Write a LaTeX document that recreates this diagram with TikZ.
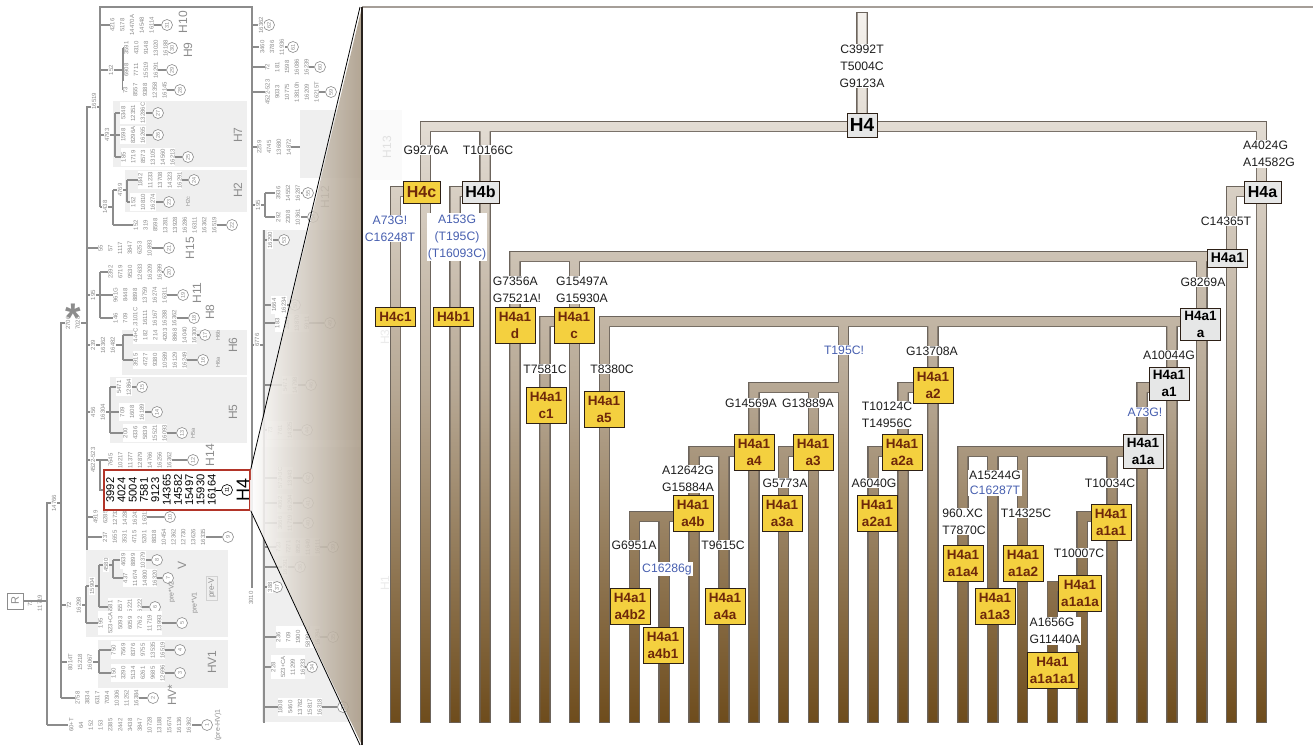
\documentclass[tikz,border=0pt]{standalone}
\usepackage{fontspec}
\setmainfont{Liberation Sans}

\definecolor{ttop}{RGB}{246,243,239}
\definecolor{tmid}{RGB}{182,167,147}
\definecolor{tbot}{RGB}{110,76,28}
\definecolor{tedge}{RGB}{108,100,92}
\definecolor{hyellow}{RGB}{244,208,63}
\definecolor{hbrown}{RGB}{110,40,10}
\definecolor{hgray}{RGB}{230,231,231}
\definecolor{hline}{RGB}{45,32,22}
\definecolor{mblue}{RGB}{72,96,176}
\definecolor{mtext}{RGB}{30,30,30}
\definecolor{lgray}{RGB}{140,140,140}
\definecolor{lbox}{RGB}{239,239,239}
\definecolor{trap}{RGB}{168,153,133}
\definecolor{redbox}{RGB}{178,52,40}

\pgfdeclareverticalshading{tubeshade}{100bp}{color(0bp)=(tbot); color(25bp)=(tbot); color(48bp)=(tmid); color(75bp)=(ttop); color(100bp)=(ttop)}

\tikzset{
  mut/.style={fill=white, inner sep=1pt, align=center, text=mtext, font=\fontsize{12.2}{17}\selectfont},
  mutb/.style={mut, text=mblue},
  hbox/.style={draw=hline, line width=0.7pt, align=center, inner xsep=3pt, inner ysep=1.5pt,
    minimum width=40pt, minimum height=19pt, font=\bfseries\fontsize{13.5}{17}\selectfont},
  hy/.style={hbox, fill=hyellow, text=hbrown},
  hg/.style={hbox, fill=hgray, text=black},
  tall/.style={minimum height=36pt},
  big/.style={minimum width=37pt, minimum height=22pt, font=\bfseries\fontsize{16}{16}\selectfont},
  ll/.style={draw=lgray, line width=1.5pt},
  ms/.style={rotate=90, align=center, fill=white, inner sep=0.6pt, text=lgray, font=\fontsize{6}{9.8}\selectfont},
  lc/.style={circle, draw=lgray, line width=0.6pt, fill=white, inner sep=0pt, minimum size=11pt,
    text=lgray, font=\fontsize{5.5}{5.5}\selectfont, rotate=90},
  hl/.style={rotate=90, text=lgray, font=\fontsize{12}{12}\selectfont},
  hs/.style={rotate=90, text=lgray, font=\fontsize{5.5}{6}\selectfont}
}

\newcommand{\cx}[1]{395.5+29.86*#1}
\newcommand{\hleaf}[6]{%
  \node[lc] (n#6) at (#5,#2) {#6};
  \draw[ll] (#1,#2) -- (n#6);
  \node[ms] (s#6) at (#3,#2) {#4};}
\newcommand{\tubes}{%
  (857.5,13) rectangle (866.5,127)
  \foreach \i/\tp in {0/187,1/122,2/187,3/122,4/252,5/317,6/252,7/317,8/512,9/512,10/447,11/447,
      12/383,13/447,14/383,15/317,16/447,17/383,18/317,19/447,20/447,21/447,22/582,23/512,24/447,
      25/383,26/317,27/252,28/187,29/122}
    {(\cx{\i}-4.5,\tp) rectangle (\cx{\i}+4.5,722)}
  \foreach \lc/\rc/\ty in {1/29/122,0/1/187,2/3/187,28/29/187,4/28/252,5/6/317,7/27/317,12/15/383,
      17/18/383,25/26/383,10/12/447,13/14/447,16/17/447,19/25/447,8/10/512,23/24/512,22/23/582}
    {(\cx{\lc}-4.5,\ty) rectangle (\cx{\rc}+4.5,\ty+9)}}

\begin{document}
\begin{tikzpicture}[x=1pt,y=-1pt]
  \useasboundingbox (0,0) rectangle (1313,745);
  \fill[white] (0,0) rectangle (1313,745);

  % overview tree
  \fill[lbox] (113,101) rectangle (247,167);
  \fill[lbox] (125,170) rectangle (247,212);
  \fill[lbox] (122,330) rectangle (247,375);
  \fill[lbox] (110,377) rectangle (247,443);
  \fill[lbox] (86,550) rectangle (228,637);
  \fill[lbox] (98,640) rectangle (228,688);
  \fill[lbox] (300,110) rectangle (362,178);
  \fill[lbox] (262,230) rectangle (362,440);
  \fill[lbox] (262,447) rectangle (362,722);

  \draw[ll] (100,207) -- (100,7) -- (252,7) -- (252,588);
  \draw[ll] (100,107) -- (87,107) -- (87,550);
  \draw[ll] (87,323) -- (61,323) -- (61,698);
  \draw[ll] (61,503) -- (47,503) -- (47,725);
  \draw[ll] (100,70) -- (123,70);   \draw[ll] (123,48) -- (123,90);
  \draw[ll] (100,135) -- (115,135); \draw[ll] (115,113) -- (115,157);
  \draw[ll] (100,207) -- (113,207); \draw[ll] (113,190) -- (113,225);
  \draw[ll] (113,190) -- (127,190); \draw[ll] (127,180) -- (127,202);
  \draw[ll] (87,295) -- (100,295);  \draw[ll] (100,272) -- (100,318);
  \draw[ll] (87,345) -- (123,345);  \draw[ll] (123,335) -- (123,360);
  \draw[ll] (87,412) -- (110,412);  \draw[ll] (110,387) -- (110,433);
  \draw[ll] (87,460) -- (100,460) -- (100,490) -- (104,490);
  \draw[ll] (61,605) -- (86,605);   \draw[ll] (86,586) -- (86,623);
  \draw[ll] (86,586) -- (99,586);   \draw[ll] (99,565) -- (99,607);
  \draw[ll] (99,565) -- (113,565);  \draw[ll] (113,560) -- (113,578);
  \draw[ll] (61,662) -- (99,662);   \draw[ll] (99,650) -- (99,673);
  \draw[ll] (252,147) -- (300,147);
  \draw[ll] (252,205) -- (265,205); \draw[ll] (265,193) -- (265,217);
  \draw[ll] (252,345) -- (264,345); \draw[ll] (264,230) -- (264,723);

  \hleaf{100}{25}{132}{4216\\5178\\14470A\\14548\\16114}{167}{31}
  \hleaf{123}{48}{146}{3591\\4310\\9148\\13020\\16188}{172}{30}
  \hleaf{123}{70}{141}{6908\\7711\\15519\\16291}{172}{29}
  \hleaf{123}{90}{145}{73\\8557\\9388\\12358\\16145}{180}{28}
  \hleaf{115}{113}{133}{5348\\12351\\13286C}{158}{27}
  \hleaf{115}{135}{133}{1598\\8296A\\16265}{158}{26}
  \hleaf{115}{157}{148}{185\\1719\\8573\\13105\\14560\\16213}{188}{25}
  \hleaf{127}{180}{160}{1842\\11233\\13708\\14323\\16291}{194}{24}
  \hleaf{127}{202}{143}{152\\10810\\16274}{169}{23}
  \hleaf{113}{225}{175}{152\\319\\8598\\13281\\13928\\16286\\16311\\16362\\16519}{232}{22}
  \hleaf{87}{248}{125}{55\\57\\1117\\3847\\6253\\10893}{169}{21}
  \hleaf{100}{272}{135}{2392\\6719\\9530\\12633\\16209\\16399}{169}{20}
  \hleaf{100}{295}{140}{961G\\8448\\8898\\13759\\16274\\16311}{183}{19}
  \hleaf{100}{318}{145}{146\\709\\13101C\\16111\\16167\\16288\\16362}{194}{18}
  \hleaf{123}{335}{165}{44+C\\182\\214\\4203\\8868\\14040\\16300}{205}{17}
  \hleaf{123}{360}{160}{3915\\4727\\9380\\10589\\16129\\16249}{203}{16}
  \hleaf{110}{387}{124}{5471\\12864}{142}{15}
  \hleaf{110}{412}{132}{709\\1608\\16189}{157}{14}
  \hleaf{110}{433}{145}{200\\4336\\5839\\15521\\16093}{182}{13}
  \hleaf{100}{460}{140}{7645\\10217\\11377\\12879\\14766\\16256\\16362}{193}{12}
  \hleaf{87}{517}{120}{4919\\6285\\12732\\14288\\16241\\16311}{170}{10}
  \hleaf{87}{537}{154}{237\\1655\\3531\\4715\\5201\\8838\\10454\\12362\\12730\\13626\\16335}{228}{9}
  \hleaf{113}{560}{133}{4639\\8899\\10379}{157}{8}
  \hleaf{113}{578}{140}{437\\11674\\14800\\16320}{168}{7}
  \hleaf{99}{607}{125}{5581\\8557\\15221\\16222}{155}{6}
  \hleaf{86}{623}{130}{195\\523+CA\\5093\\6059\\7762\\11719\\13993}{182}{5}
  \hleaf{99}{650}{138}{750\\7569\\8376\\9755\\13535\\16519}{180}{4}
  \hleaf{99}{673}{138}{150\\3290\\5134\\6261\\9685\\12696}{180}{3}
  \hleaf{61}{698}{107}{2758\\3834\\6317\\7094\\10306\\11252\\16384}{153}{2}
  \hleaf{47}{725}{130}{60+T\\64\\152\\153\\2385\\2442\\3438\\3847\\10728\\13188\\15674\\16136\\16362}{207}{1}
  \hleaf{252}{25}{261}{16362}{269}{62}
  \hleaf{252}{47}{272}{3460\\3786\\11936}{293}{61}
  \hleaf{252}{67}{287}{72\\181\\1598\\16086\\16239}{320}{60}
  \hleaf{252}{92}{292}{4522-523\\9033\\10775\\13810h\\16209\\16215T}{331}{59}
  \hleaf{265}{193}{288}{3936\\14552\\16287}{308}{55}
  \hleaf{265}{217}{288}{292\\2308\\10361}{313}{54}
  \hleaf{264}{240}{270}{16290}{284}{53}
  \hleaf{264}{305}{279}{1664\\16234}{295}{50}
  \hleaf{264}{323}{292}{183\\2381\\13870\\5911}{330}{49}
  \hleaf{264}{385}{290}{5471\\14798}{311}{46}
  \hleaf{264}{430}{280}{73\\761\\14325}{307}{44}
  \hleaf{264}{478}{285}{573+3C\\13943}{308}{42}
  \hleaf{264}{503}{285}{4062\\16294}{308}{41}
  \hleaf{264}{523}{285}{3666\\11719}{308}{40}
  \hleaf{264}{547}{298}{723\\7271\\8952\\11649\\16111}{333}{39}
  \hleaf{264}{567}{285}{16291}{300}{38}
  \hleaf{264}{587}{270}{388}{277}{37}
  \hleaf{264}{637}{298}{236\\709\\1900\\5899+C\\16294}{333}{35}
  \hleaf{264}{667}{288}{228\\523+CA\\11299\\16233}{312}{34}
  \hleaf{264}{707}{300}{1808\\5460\\13782\\15817\\16318}{343}{33}

  \node[ms] (b16519) at (94,101) {16519};
  \node[ms] (b152) at (111,70) {152};
  \node[ms] (b4793) at (107,135) {4793};
  \node[ms] (b1438) at (105,207) {1438};
  \node[ms] (b4769) at (120,190) {4769};
  \node[ms] (b195) at (93,295) {195};
  \node[ms] (b239) at (93,345) {239};
  \node[ms] (b16362) at (108,345) {16362\\16482};
  \node[ms] (b456) at (98,412) {456\\16304};
  \node[ms] (b4522) at (93,460) {4522-523};
  \node[ms] (b2706) at (73,323) {2706\\7028};
  \node[ms] (b14766) at (54,503) {14766};
  \node[ms] (b72) at (74,605) {72\\16298};
  \node[ms] (b15904) at (92,586) {15904};
  \node[ms] (b4580) at (106,565) {4580};
  \node[ms] (b8014) at (80,662) {8014T\\15218\\16067};
  \node[ms] (b73) at (35,603) {73\\11719};
  \node[ms] (b2259) at (274,147) {2259\\4745\\13680\\14872};
  \node[ms] (b195b) at (258,205) {195};
  \node[ms] (b6776) at (257,340) {6776};
  \node[ms] (b3010) at (251,598) {3010};
  \node[draw=lgray, rotate=90, text=lgray, inner sep=1.5pt, minimum size=16pt,
    font=\fontsize{11}{11}\selectfont] (R) at (15,601) {R};
  \draw[ll] (R) -- (47,601);
  \node[text=lgray, font=\bfseries\fontsize{40}{40}\selectfont] (star) at (73,318) {*};

  \node[hl] (lH10) at (183,22) {H10};
  \node[hl] (lH9) at (188,50) {H9};
  \node[hl] (lH7) at (238,135) {H7};
  \node[hl] (lH2) at (238,190) {H2};
  \node[hl] (lH15) at (190,248) {H15};
  \node[hl] (lH11) at (197,293) {H11};
  \node[hl] (lH8) at (210,312) {H8};
  \node[hl] (lH6) at (233,345) {H6};
  \node[hl] (lH5) at (233,412) {H5};
  \node[hl] (lH14) at (210,455) {H14};
  \node[hl] (lV) at (182,565) {V};
  \node[hl] (lHV1) at (212,662) {HV1};
  \node[hl] (lHVs) at (172,695) {HV*};
  \node[hl] (lH12) at (325,197) {H12};
  \node[hs] (sH2c) at (188,202) {H2c};
  \node[hs] (sH6b) at (218,335) {H6b};
  \node[hs] (sH6a) at (218,362) {H6a};
  \node[hs] (sH5a) at (193,433) {H5a};
  \node[hs, font=\fontsize{7}{7}\selectfont] (spV2) at (172,592) {pre*V2};
  \node[hs, font=\fontsize{7}{7}\selectfont] (spV1) at (195,603) {pre*V1};
  \node[hs, font=\fontsize{7}{7}\selectfont] (spHV) at (218,725) {(pre-HV)1};
  \node[hs, draw=lgray!40, font=\fontsize{8}{8}\selectfont, inner sep=2pt] (spV) at (212,588) {pre-V};

  % selected haplogroup
  \node[draw=redbox, line width=1.5pt, fill=white, minimum width=146pt, minimum height=40pt,
    inner sep=0pt] (h4sel) at (177,490) {};
  \node[rotate=90, align=center, inner sep=0pt, font=\fontsize{11.2}{11.3}\selectfont]
    (h4st) at (161,490) {3992\\4024\\5004\\7581\\9123\\14365\\14582\\15497\\15930\\16164};
  \node[lc, draw=black, text=black] (n11) at (227,490) {11};
  \draw (h4st) -- (n11);
  \node[rotate=90, font=\fontsize{18}{18}\selectfont] (h4lab) at (243,490) {H4};

  % zoom wedge
  \shade[left color=white, right color=trap, fill opacity=0.88]
    (251,470) -- (362,7) -- (362,745) -- (250,510) -- cycle;
  \draw[line width=0.8pt] (h4sel.north east) -- (360,7);
  \draw[line width=0.8pt] (h4sel.south east) -- (360,745);

  \fill[black!2] (362,110) rectangle (402,180);
  \node[hl, text=black!12] (fH13) at (387,147) {H13};
  \node[hl, text=black!8] (fH3) at (385,337) {H3};
  \node[hl, text=black!8] (fH1) at (385,583) {H1};
  \draw[line width=1.6pt, draw={rgb,255:red,165;green,158;blue,152}] (362,7) -- (1313,7);
  \draw[line width=1.2pt, draw={rgb,255:red,40;green,34;blue,30}] (362,7) -- (362,745);

  % H4 tree
  \draw[draw=tedge, line width=2.6pt] \tubes;
  \begin{scope}
    \clip \tubes;
    \shade[shading=tubeshade] (362,7) rectangle (1313,722);
  \end{scope}

  \node[mut] (m4) at (862,66) {C3992T\\T5004C\\G9123A};
  \node[mut] (m4c) at (426,150) {G9276A};
  \node[mut] (m4b) at (488,150) {T10166C};
  \node[mut, align=left] (m4a) at (1269,154) {A4024G\\A14582G};
  \node[mutb] (m4c1) at (390,228.5) {A73G!\\C16248T};
  \node[mutb] (m4b1) at (457,237) {A153G\\(T195C)\\(T16093C)};
  \node[mut] (m4a1) at (1226,221) {C14365T};
  \node[mut, align=left] (m4a1d) at (517,290) {G7356A\\G7521A!};
  \node[mut] (m4a1c) at (582,290) {G15497A\\G15930A};
  \node[mut] (m4a1a) at (1203,282) {G8269A};
  \node[mutb] (mT195) at (844,350) {T195C!};
  \node[mut] (m4a1a2) at (932,351) {G13708A};
  \node[mut] (m4a1a1) at (1169,355) {A10044G};
  \node[mut] (m4a1c1) at (545,369) {T7581C};
  \node[mut] (m4a1a5) at (612,369) {T8380C};
  \node[mut] (m4a1a4) at (751,403) {G14569A};
  \node[mut] (m4a1a3) at (808,403) {G13889A};
  \node[mut] (m4a1a2a) at (887,415) {T10124C\\T14956C};
  \node[mutb] (m4a1a1a) at (1145,412) {A73G!};
  \node[mut] (m4a1a4b) at (688,479) {A12642G\\G15884A};
  \node[mut] (m4a1a3a) at (785,483) {G5773A};
  \node[mut] (m4a1a2a1) at (874,483) {A6040G};
  \node[mut, font=\fontsize{12.2}{14.5}\selectfont] (m4a1a1a3) at (995,483) {A15244G\\\textcolor{mblue}{C16287T}};
  \node[mut] (m4a1a1a1) at (1110,483) {T10034C};
  \node[mut] (m4a1a4b2) at (634,545) {G6951A};
  \node[mut] (m4a1a4a) at (723,545) {T9615C};
  \node[mutb] (m4a1a4b1) at (667,569) {C16286g};
  \node[mut, align=left] (m4a1a1a4) at (964,521.5) {960.XC\\T7870C};
  \node[mut] (m4a1a1a2) at (1026,513) {T14325C};
  \node[mut] (m4a1a1a1a) at (1079,553) {T10007C};
  \node[mut, align=left] (m4a1a1a1a1) at (1055,631) {A1656G\\G11440A};

  \node[hg, minimum width=30pt, minimum height=24pt, inner xsep=1pt,
    font=\bfseries\fontsize{19}{19}\selectfont] (h4) at (862,125) {H4};
  \node[hy, big] (h4c) at (421.5,192) {H4c};
  \node[hg, big] (h4b) at (480.5,192) {H4b};
  \node[hg, big] (h4a) at (1262.5,192) {H4a};
  \node[hy] (h4c1) at (395.5,316.5) {H4c1};
  \node[hy] (h4b1) at (453.5,316.5) {H4b1};
  \node[hg, minimum height=18pt, font=\bfseries\fontsize{14}{14}\selectfont] (h4a1) at (1227.5,258) {H4a1};
  \node[hy, tall] (h4a1d) at (515,325) {H4a1\\d};
  \node[hy, tall] (h4a1c) at (574,325) {H4a1\\c};
  \node[hg, minimum height=32pt] (h4a1a) at (1200.5,324) {H4a1\\a};
  \node[hy, tall] (h4a1c1) at (546,405) {H4a1\\c1};
  \node[hy, tall] (h4a1a5) at (604,409) {H4a1\\a5};
  \node[hg, minimum height=33pt] (h4a1a1) at (1169,383.5) {H4a1\\a1};
  \node[hy, tall] (h4a1a2) at (933,385.5) {H4a1\\a2};
  \node[hy, tall] (h4a1a4) at (754,452) {H4a1\\a4};
  \node[hy, tall] (h4a1a3) at (813,452) {H4a1\\a3};
  \node[hy, tall] (h4a1a2a) at (902,452) {H4a1\\a2a};
  \node[hg, minimum height=34pt] (h4a1a1a) at (1143,451) {H4a1\\a1a};
  \node[hy, tall] (h4a1a4b) at (693,513.5) {H4a1\\a4b};
  \node[hy, tall] (h4a1a3a) at (782,513.5) {H4a1\\a3a};
  \node[hy, tall] (h4a1a2a1) at (877,513.5) {H4a1\\a2a1};
  \node[hy, tall] (h4a1a1a1) at (1111,522.5) {H4a1\\a1a1};
  \node[hy, tall] (h4a1a4b2) at (630,606) {H4a1\\a4b2};
  \node[hy, tall] (h4a1a4a) at (725,606) {H4a1\\a4a};
  \node[hy, tall] (h4a1a4b1) at (663,645) {H4a1\\a4b1};
  \node[hy, tall] (h4a1a1a4) at (963,563.5) {H4a1\\a1a4};
  \node[hy, tall] (h4a1a1a2) at (1023,563.5) {H4a1\\a1a2};
  \node[hy, tall] (h4a1a1a3) at (995,606) {H4a1\\a1a3};
  \node[hy, tall] (h4a1a1a1a) at (1080,593) {H4a1\\a1a1a};
  \node[hy, tall] (h4a1a1a1a1) at (1052.5,670) {H4a1\\a1a1a1};
\end{tikzpicture}
\end{document}
